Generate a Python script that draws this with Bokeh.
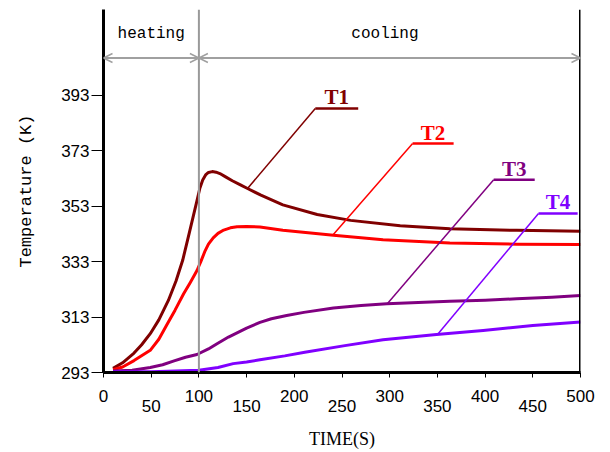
from bokeh.plotting import figure
from bokeh.models import FixedTicker, Span, Arrow, OpenHead, Label, ColumnDataSource, LinearAxis
from bokeh.core.properties import value
from bokeh.embed import file_html
from bokeh.resources import INLINE

# ---- data ----
time_t1 = [10, 20, 32, 40, 49, 58, 68, 76, 83, 90, 98, 101, 104, 107, 110, 114, 118, 122, 128, 135, 143, 151, 165, 188, 224, 259, 311, 363, 433, 500]
temp_t1 = [294.5, 296.5, 300, 303, 307, 312, 319, 326, 333.5, 343.5, 355, 359.5, 362.5, 364.3, 365.2, 365.5, 365.3, 364.8, 363.6, 362.2, 360.8, 359.4, 357, 353.5, 350, 347.9, 346, 344.9, 344.3, 344]

time_t2 = [10, 20, 32, 49, 58, 67, 75, 84, 91, 98, 102, 106, 110, 115, 120, 126, 133, 140, 150, 164, 188, 241, 293, 363, 433, 500]
temp_t2 = [294, 295, 297.3, 301, 305, 310.6, 315.5, 321.4, 325.5, 329.8, 333, 336.5, 339.3, 341.6, 343.2, 344.4, 345.2, 345.6, 345.7, 345.5, 344.3, 342.5, 340.9, 339.7, 339.3, 339.2]

time_t3 = [10, 30, 49, 62, 74, 86, 98, 110, 119, 131, 150, 164, 176, 192, 210, 241, 270, 297, 330, 363, 400, 433, 470, 500]
temp_t3 = [293.5, 293.8, 294.8, 295.8, 297.2, 298.5, 299.5, 301.5, 303.4, 305.8, 309, 311.1, 312.4, 313.6, 314.7, 316.3, 317.2, 317.8, 318.3, 318.7, 319.1, 319.6, 320.2, 320.8]

time_t4 = [10, 50, 100, 120, 136, 150, 164, 190, 211, 253, 293, 349, 398, 450, 500]
temp_t4 = [293.3, 293.3, 293.8, 294.8, 296.2, 296.8, 297.6, 299, 300.3, 302.7, 304.8, 306.7, 308.2, 310, 311.2]

series_names = ["T1", "T2", "T3", "T4"]
series_x = [time_t1, time_t2, time_t3, time_t4]
series_y = [temp_t1, temp_t2, temp_t3, temp_t4]

# callout leaders: point on curve -> start of underline -> end of underline
leader_curve_x = [151, 240, 297.7, 351]
leader_curve_y = [359.4, 342.4, 317.9, 307.1]
leader_x0 = [222, 324, 409, 456]
leader_x1 = [267, 367, 452, 497]
leader_y = [388.3, 375.6, 362.6, 350.4]
callout_y = [392.3, 379.6, 366.6, 354.4]

y_ticks = [293, 313, 333, 353, 373, 393]
x_ticks = [0, 50, 100, 150, 200, 250, 300, 350, 400, 450, 500]
x_ticks_lower = [50, 150, 250, 350, 450]

phase_bounds = [0, 100, 500]
phase_names = ["heating", "cooling"]
phase_label_x = [50, 295]
arrow_level = 406.5
phase_label_level = 415

# ---- styles ----
colors = ["#800000", "#ff0000", "#800080", "#8000ff"]
tick_font = "Liberation Sans"
tick_size = "17px"
mono_font = "Liberation Mono"

p = figure(width=610, height=452, x_range=(0, 500), y_range=(293, 424),
           output_backend="svg", toolbar_location=None,
           min_border_left=103, min_border_right=30, min_border_top=9, min_border_bottom=80)
p.grid.visible = False
p.outline_line_color = None
p.background_fill_color = "white"
p.border_fill_color = "white"

# y axis
ya = p.yaxis[0]
ya.ticker = FixedTicker(ticks=y_ticks)
ya.axis_line_width = 3
ya.axis_line_color = "black"
ya.major_tick_out = 12
ya.major_tick_in = 0
ya.major_tick_line_width = 1
ya.minor_tick_line_color = None
ya.major_label_standoff = 2
ya.major_label_text_font = tick_font
ya.major_label_text_font_size = tick_size
ya.major_label_text_color = "black"
ya.axis_label = "Temperature (K)"
ya.axis_label_text_font = mono_font
ya.axis_label_text_font_size = "17px"
ya.axis_label_text_font_style = "normal"
ya.axis_label_text_color = "black"
ya.axis_label_standoff = 22

# x axis: upper row of labels (hundreds)
xa = p.xaxis[0]
xa.ticker = FixedTicker(ticks=x_ticks)
xa.axis_line_width = 3
xa.axis_line_color = "black"
xa.major_tick_out = 5
xa.major_tick_in = 0
xa.minor_tick_line_color = None
xa.major_label_standoff = 12
xa.major_label_text_font = tick_font
xa.major_label_text_font_size = tick_size
xa.major_label_text_color = "black"
xa.major_label_overrides = {t: "" for t in x_ticks_lower}

# x axis: lower staggered row (fifties) + title
xb = LinearAxis(ticker=FixedTicker(ticks=x_ticks_lower))
xb.axis_line_color = None
xb.major_tick_line_color = None
xb.major_tick_out = 0
xb.major_tick_in = 0
xb.minor_tick_line_color = None
xb.major_label_standoff = -5
xb.major_label_text_font = tick_font
xb.major_label_text_font_size = tick_size
xb.major_label_text_color = "black"
xb.axis_label = "TIME(S)"
xb.axis_label_text_font = "Liberation Serif"
xb.axis_label_text_font_size = "18px"
xb.axis_label_text_font_style = "normal"
xb.axis_label_text_color = "black"
xb.axis_label_standoff = 14
p.add_layout(xb, "below")

# phase divider and right border
p.add_layout(Span(location=phase_bounds[1], dimension="height", line_color="#999999", line_width=2))
p.add_layout(Span(location=phase_bounds[2], dimension="height", line_color="black", line_width=3))

# phase arrows
for a, b in zip(phase_bounds[:-1], phase_bounds[1:]):
    p.add_layout(Arrow(start=OpenHead(size=9, line_color="#a0a0a0", line_width=1.5),
                       end=OpenHead(size=9, line_color="#a0a0a0", line_width=1.5),
                       x_start=a, y_start=arrow_level, x_end=b, y_end=arrow_level,
                       line_color="#a0a0a0", line_width=2))
for name, lx in zip(phase_names, phase_label_x):
    p.add_layout(Label(x=lx, y=phase_label_level, text=name, text_align="center",
                       text_baseline="alphabetic", text_font=mono_font,
                       text_font_size="16px", text_color="black"))

# curves
for xs, ys, c in zip(series_x, series_y, colors):
    p.line(xs, ys, line_color=c, line_width=3, line_join="round")

# callouts
for i, c in enumerate(colors):
    p.line([leader_curve_x[i], leader_x0[i]], [leader_curve_y[i], leader_y[i]],
           line_color=c, line_width=1.5)
    p.line([leader_x0[i], leader_x1[i]], [leader_y[i], leader_y[i]],
           line_color=c, line_width=2.5)

lab = ColumnDataSource(dict(x=[(a + b) / 2 for a, b in zip(leader_x0, leader_x1)],
                            y=callout_y, t=series_names, c=colors))
p.text(x="x", y="y", text="t", source=lab, text_color="c", text_align="center",
       text_baseline="alphabetic",
       text_font=value("Liberation Serif"), text_font_style="bold", text_font_size="21px")

open("out.html", "w").write(file_html(p, INLINE))
